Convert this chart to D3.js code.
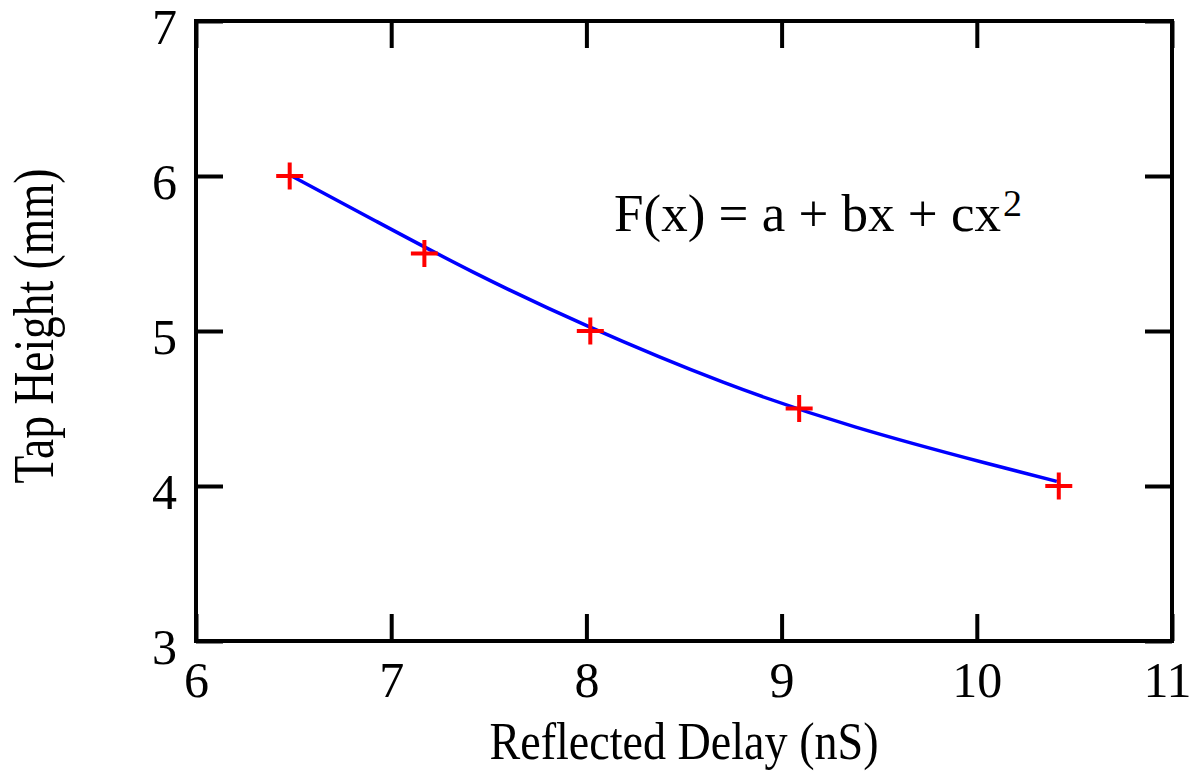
<!DOCTYPE html>
<html>
<head>
<meta charset="utf-8">
<script src="https://cdn.jsdelivr.net/npm/d3@7"></script>
<style>
  body { margin: 0; background: #fff; }
  text { font-family: "Liberation Serif", "DejaVu Serif", serif; fill: #000; }
</style>
</head>
<body>
<div id="chart"></div>
<script>
const WIDTH = 1192
const HEIGHT = 771

// measured points (red crosses)
const pointsX = [6.48, 7.17, 8.02, 9.09, 10.42]
const pointsY = [6.0, 5.5, 5.0, 4.5, 4.0]

// fitted curve
const curveX = [6.49, 6.92, 7.42, 8.01, 8.70, 9.38, 10.04, 10.41]
const curveY = [6.00, 5.71, 5.38, 5.03, 4.67, 4.38, 4.15, 4.03]

const xTicks = [6, 7, 8, 9, 10, 11]
const yTicks = [3, 4, 5, 6, 7]

const x = d3.scaleLinear().domain([6, 11]).range([196, 1172])
const y = d3.scaleLinear().domain([3, 7]).range([641, 21])

const svg = d3.select("#chart")
    .append("svg")
    .attr("width", WIDTH)
    .attr("height", HEIGHT)

const TICK = 27
const fmt = d3.format("d")

// axes, ticks pointing inward on all sides
const axisB = svg.append("g")
    .attr("transform", `translate(0,${y(3)})`)
    .call(d3.axisBottom(x).tickValues(xTicks).tickFormat(fmt).tickSizeInner(-TICK).tickSizeOuter(0))
axisB.selectAll("text")
    .attr("y", 56)
    .attr("dy", 0)

svg.append("g")
    .attr("transform", `translate(0,${y(7)})`)
    .call(d3.axisTop(x).tickValues(xTicks).tickSizeInner(-TICK).tickSizeOuter(0).tickFormat(""))

const axisL = svg.append("g")
    .attr("transform", `translate(${x(6)},0)`)
    .call(d3.axisLeft(y).tickValues(yTicks).tickFormat(fmt).tickSizeInner(-TICK).tickSizeOuter(0))
axisL.selectAll("text")
    .attr("x", -19)
    .attr("dy", 22)

svg.append("g")
    .attr("transform", `translate(${x(11)},0)`)
    .call(d3.axisRight(y).tickValues(yTicks).tickSizeInner(-TICK).tickSizeOuter(0).tickFormat(""))

svg.selectAll(".domain").remove()
svg.selectAll(".tick line")
    .attr("stroke", "#000")
    .attr("stroke-width", 4)
svg.selectAll(".tick text")
    .style("font-family", '"Liberation Serif", serif')
    .style("font-size", "50px")
    .attr("fill", "#000")
// keep the last label inside the picture
axisB.selectAll("text").filter(d => d === 11).attr("dx", -5)

// frame
svg.append("rect")
    .attr("x", x(6))
    .attr("y", y(7))
    .attr("width", x(11) - x(6))
    .attr("height", y(3) - y(7))
    .attr("fill", "none")
    .attr("stroke", "#000")
    .attr("stroke-width", 4)

// fit curve
const line = d3.line()
    .x(d => x(d[0]))
    .y(d => y(d[1]))
    .curve(d3.curveNatural)

svg.append("path")
    .datum(curveX.map((v, i) => [v, curveY[i]]))
    .attr("d", line)
    .attr("fill", "none")
    .attr("stroke", "#0000ff")
    .attr("stroke-width", 3.5)

// red crosses
const ARM = 13.5
svg.append("g")
    .selectAll("path")
    .data(pointsX.map((v, i) => [v, pointsY[i]]))
    .enter()
    .append("path")
    .attr("d", d => {
        const cx = x(d[0]), cy = y(d[1])
        return `M${cx - ARM},${cy}H${cx + ARM}M${cx},${cy - ARM}V${cy + ARM}`
    })
    .attr("stroke", "#ff0000")
    .attr("stroke-width", 4)
    .attr("fill", "none")

// formula
const formula = svg.append("text")
    .attr("x", 614)
    .attr("y", 231)
    .style("font-size", "53px")
    .text("F(x) = a + bx + cx")
formula.append("tspan")
    .attr("dx", 2)
    .attr("dy", -15)
    .style("font-size", "38px")
    .text("2")

// axis labels
svg.append("text")
    .attr("x", (x(6) + x(11)) / 2)
    .attr("y", 759)
    .attr("text-anchor", "middle")
    .attr("textLength", 389)
    .attr("lengthAdjust", "spacingAndGlyphs")
    .style("font-size", "52px")
    .text("Reflected Delay (nS)")

svg.append("text")
    .attr("transform", `translate(53,${(y(3) + y(7)) / 2 - 5}) rotate(-90)`)
    .attr("text-anchor", "middle")
    .attr("textLength", 315)
    .attr("lengthAdjust", "spacingAndGlyphs")
    .style("font-size", "58px")
    .text("Tap Height (mm)")
</script>
</body>
</html>
